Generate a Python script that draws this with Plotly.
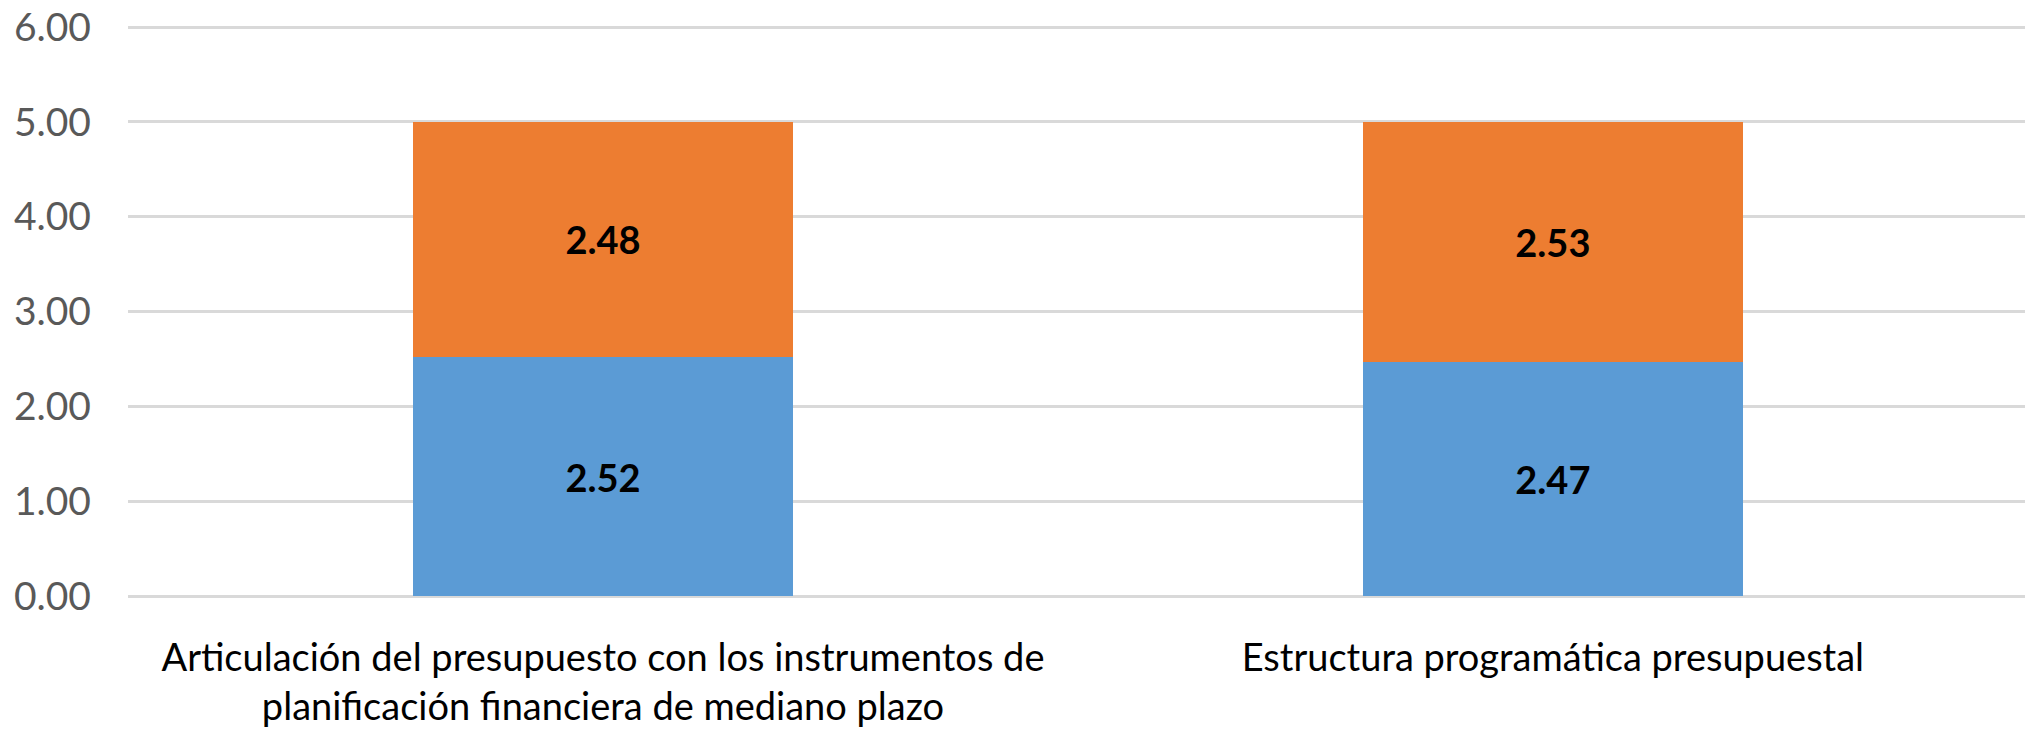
import plotly.graph_objects as go

categories = [
    "Articulación del presupuesto con los instrumentos de<br>planificación financiera de mediano plazo",
    "Estructura programática presupuestal",
]
serie_azul = [2.52, 2.47]
serie_naranja = [2.48, 2.53]
ytick_vals = [0, 1, 2, 3, 4, 5, 6]
ytick_text = ["0.00", "1.00", "2.00", "3.00", "4.00", "5.00", "6.00"]

FONT = "Lato, Carlito, sans-serif"
xpos = list(range(len(categories)))

fig = go.Figure()
for vals, color in ((serie_azul, "#5B9BD5"), (serie_naranja, "#ED7D31")):
    fig.add_trace(go.Bar(
        x=xpos, y=vals, width=0.4,
        marker=dict(color=color, line=dict(width=0)),
        text=[f"<b>{v:.2f}</b>" for v in vals],
        textposition="inside", insidetextanchor="middle", constraintext="none",
        textfont=dict(family=FONT, size=38, color="black"),
        hoverinfo="skip",
    ))

fig.update_layout(
    barmode="stack",
    width=2025, height=740,
    margin=dict(l=128, r=0, t=24, b=144, pad=0),
    paper_bgcolor="white", plot_bgcolor="white",
    showlegend=False,
    font=dict(family=FONT, size=38, color="#595959"),
    xaxis=dict(
        range=[-0.5, 1.497],
        tickvals=xpos, ticktext=categories,
        tickfont=dict(family=FONT, size=38, color="black"),
        showgrid=False, zeroline=False, showline=False, ticks="",
        ticklabelstandoff=36,
    ),
    yaxis=dict(
        range=[0, 6.032],
        tickvals=ytick_vals, ticktext=ytick_text,
        tickfont=dict(family=FONT, size=39, color="#595959"),
        showgrid=True, gridcolor="#D9D9D9", gridwidth=3,
        zeroline=True, zerolinecolor="#D9D9D9", zerolinewidth=3,
        showline=False, ticks="",
        ticklabelstandoff=36,
    ),
)

fig.write_html("out.html")
